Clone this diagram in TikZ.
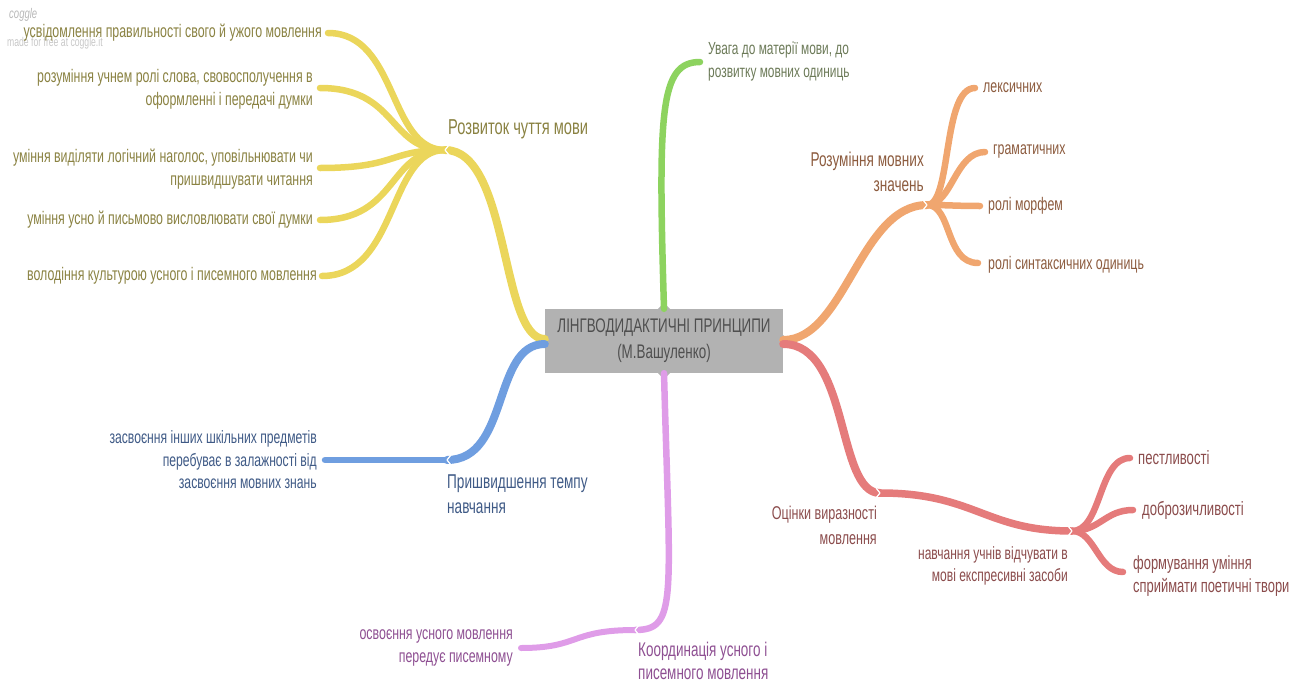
\documentclass[tikz,border=0pt]{standalone}
\usepackage{fontspec}
\setmainfont{Liberation Sans}[FakeStretch=0.68]
\definecolor{ylin}{HTML}{EBD65B}
\definecolor{ytxt}{HTML}{8A8242}
\definecolor{glin}{HTML}{8DD35F}
\definecolor{gtxt}{HTML}{6C7A58}
\definecolor{olin}{HTML}{F0A66F}
\definecolor{otxt}{HTML}{8C5B3E}
\definecolor{rlin}{HTML}{E57B7B}
\definecolor{rtxt}{HTML}{8B4C4C}
\definecolor{blin}{HTML}{6F9EE0}
\definecolor{btxt}{HTML}{3F5A86}
\definecolor{plin}{HTML}{DF9CE8}
\definecolor{ptxt}{HTML}{8E4F92}
\definecolor{boxg}{HTML}{B2B2B2}
\definecolor{boxt}{HTML}{4F4F4F}
\tikzset{
  br/.style={line width=#1, line cap=round, line join=round},
  sub/.style={inner sep=0pt, font=\fontsize{18.2}{23}\selectfont},
  lab/.style={inner sep=0pt, font=\fontsize{20}{25}\selectfont},
  chev/.style={draw=white, line width=1.2pt, line cap=round, line join=round},
}
\begin{document}
\begin{tikzpicture}[x=1pt,y=-1pt]
\useasboundingbox (0,0) rectangle (1309,688);

% centre
\node[fill=boxg, minimum width=238, minimum height=64, inner sep=0pt, text=boxt, align=center,
  font=\fontsize{19.7}{26}\selectfont] (c) at (664,341) {ЛІНГВОДИДАКТИЧНІ ПРИНЦИПИ\\(М.Вашуленко)};
\fill[boxg] ([xshift=-6pt]c.north) -- ([yshift=6pt]c.north) -- ([xshift=6pt]c.north) -- cycle;
\fill[boxg] ([xshift=-6pt]c.south) -- ([yshift=-6pt]c.south) -- ([xshift=6pt]c.south) -- cycle;
\fill[boxg] ([yshift=6pt]c.west) -- ([xshift=-6pt]c.west) -- ([yshift=-6pt]c.west) -- cycle;
\fill[boxg] ([yshift=6pt]c.east) -- ([xshift=6pt]c.east) -- ([yshift=-6pt]c.east) -- cycle;

% watermark
\node[anchor=west, inner sep=0pt, text=black!28, font=\fontsize{14}{14}\itshape\selectfont] (wm1) at (9,15) {coggle};
\node[anchor=west, inner sep=0pt, text=black!22, font=\fontsize{12.7}{13}\selectfont] (wm2) at (7,43) {made for free at coggle.it};

% junction coordinates
\coordinate (jy) at (445,150);
\coordinate (jo) at (927,205);
\coordinate (jr1) at (880,493);
\coordinate (jr2) at (1072,531);
\coordinate (jb) at (447,460);
\coordinate (jp) at (635,630);

% end coordinates
\coordinate (ey1) at (328,33);
\coordinate (ey2) at (320,88);
\coordinate (ey3) at (320,168);
\coordinate (ey4) at (320,220);
\coordinate (ey5) at (322,276);
\coordinate (eg) at (700,62);
\coordinate (eo1) at (975,88);
\coordinate (eo2) at (985,152);
\coordinate (eo3) at (980,206);
\coordinate (eo4) at (978,263);
\coordinate (er1) at (1130,458);
\coordinate (er2) at (1133,510);
\coordinate (er3) at (1123,572);
\coordinate (eb) at (325,460);
\coordinate (ep) at (521,648);

% yellow
\draw[br=8, ylin] ([yshift=2pt]c.west) .. controls (500,339) and (510,150) .. (jy);
\draw[br=6.5, ylin] (jy) .. controls (388,150) and (398,33) .. (ey1);
\draw[br=6.5, ylin] (jy) .. controls (388,150) and (398,88) .. (ey2);
\draw[br=6.5, ylin] (jy) .. controls (388,150) and (398,168) .. (ey3);
\draw[br=6.5, ylin] (jy) .. controls (388,150) and (398,220) .. (ey4);
\draw[br=6.5, ylin] (jy) .. controls (388,150) and (398,276) .. (ey5);

% green
\draw[br=6.5, glin] (c.north) .. controls (658,110) and (660,62) .. (eg);

% orange
\draw[br=8, olin] ([yshift=1pt]c.east) .. controls (845,340) and (860,205) .. (jo);
\draw[br=6.5, olin] (jo) .. controls (952,205) and (942,88) .. (eo1);
\draw[br=6.5, olin] (jo) .. controls (952,205) and (955,152) .. (eo2);
\draw[br=6.5, olin] (jo) .. controls (950,205) and (955,206) .. (eo3);
\draw[br=6.5, olin] (jo) .. controls (952,205) and (945,263) .. (eo4);

% red
\draw[br=8, rlin] ([yshift=-3pt]c.east) .. controls (850,344) and (836,493) .. (jr1);
\draw[br=7.5, rlin] (jr1) .. controls (975,493) and (985,531) .. (jr2);
\draw[br=6.5, rlin] (jr2) .. controls (1102,531) and (1098,458) .. (er1);
\draw[br=6.5, rlin] (jr2) .. controls (1100,531) and (1105,510) .. (er2);
\draw[br=6.5, rlin] (jr2) .. controls (1095,531) and (1098,572) .. (er3);

% blue
\draw[br=8, blin] ([yshift=-3pt]c.west) .. controls (492,344) and (510,460) .. (jb);
\draw[br=6.5, blin] (jb) -- (eb);

% purple
\draw[br=6.5, plin] (c.south) .. controls (670,600) and (678,630) .. (jp);
\draw[br=6, plin] (jp) .. controls (570,630) and (580,648) .. (ep);

% junction chevrons
\draw[chev] ([shift={(4,-5)}]jy) -- (jy) -- ([shift={(4,5)}]jy);
\draw[chev] ([shift={(4,-5)}]jb) -- (jb) -- ([shift={(4,5)}]jb);
\draw[chev] ([shift={(4,-5)}]jp) -- (jp) -- ([shift={(4,5)}]jp);
\draw[chev] ([shift={(-4,-5)}]jo) -- (jo) -- ([shift={(-4,5)}]jo);
\draw[chev] ([shift={(-4,-5)}]jr1) -- (jr1) -- ([shift={(-4,5)}]jr1);
\draw[chev] ([shift={(-4,-5)}]jr2) -- (jr2) -- ([shift={(-4,5)}]jr2);

% yellow texts
\node[lab, text=ytxt, anchor=west, font=\fontsize{21.6}{26}\selectfont] (ly) at (448,129) {Розвиток чуття мови};
\node[sub, text=ytxt, anchor=east, align=right] (ty1) at (322,33) {усвідомлення правильності свого й ужого мовлення};
\node[sub, text=ytxt, anchor=east, align=right] (ty2) at (313,89) {розуміння учнем ролі слова, свовосполучення в\\оформленні і передачі думки};
\node[sub, text=ytxt, anchor=east, align=right] (ty3) at (313,169) {уміння виділяти логічний наголос, уповільнювати чи\\пришвидшувати читання};
\node[sub, text=ytxt, anchor=east, align=right] (ty4) at (313,220) {уміння усно й письмово висловлювати свої думки};
\node[sub, text=ytxt, anchor=east, align=right] (ty5) at (317,276) {володіння культурою усного і писемного мовлення};

% green text
\node[sub, text=gtxt, anchor=west, align=left, font=\fontsize{17.5}{23}\selectfont] (tg) at (708,61) {Увага до матерії мови, до\\розвитку мовних одиниць};

% orange texts
\node[lab, text=otxt, anchor=east, align=right] (lo) at (924,172) {Розуміння мовних\\значень};
\node[sub, text=otxt, anchor=west] (to1) at (983,88) {лексичних};
\node[sub, text=otxt, anchor=west] (to2) at (993,151) {граматичних};
\node[sub, text=otxt, anchor=west] (to3) at (988,206) {ролі морфем};
\node[sub, text=otxt, anchor=west] (to4) at (988,265) {ролі синтаксичних одиниць};

% red texts
\node[lab, text=rtxt, anchor=east, align=right, font=\fontsize{18.5}{25}\selectfont] (lr1) at (877,525) {Оцінки виразності\\мовлення};
\node[sub, text=rtxt, anchor=east, align=right, font=\fontsize{17.7}{22}\selectfont] (lr2) at (1068,566) {навчання учнів відчувати в\\мові експресивні засоби};
\node[sub, text=rtxt, anchor=west, font=\fontsize{19.3}{23}\selectfont] (tr1) at (1138,458) {пестливості};
\node[sub, text=rtxt, anchor=west, font=\fontsize{19.3}{23}\selectfont] (tr2) at (1142,510) {доброзичливості};
\node[sub, text=rtxt, anchor=west, align=left, font=\fontsize{19}{23}\selectfont] (tr3) at (1133,576) {формування уміння\\сприймати поетичні твори};

% blue texts
\node[sub, text=btxt, anchor=east, align=right, font=\fontsize{17.9}{22.5}\selectfont] (tb) at (317,460) {засвоєння інших шкільних предметів\\перебуває в залажності від\\засвоєння мовних знань};
\node[lab, text=btxt, anchor=west, align=left] (lb) at (447,494) {Пришвидшення темпу\\навчання};

% purple texts
\node[sub, text=ptxt, anchor=east, align=right] (tp) at (513,648) {освоєння усного мовлення\\передує писемному};
\node[lab, text=ptxt, anchor=west, align=left, font=\fontsize{19.8}{23}\selectfont] (lp) at (638,661) {Координація усного і\\писемного мовлення};
\end{tikzpicture}
\end{document}
